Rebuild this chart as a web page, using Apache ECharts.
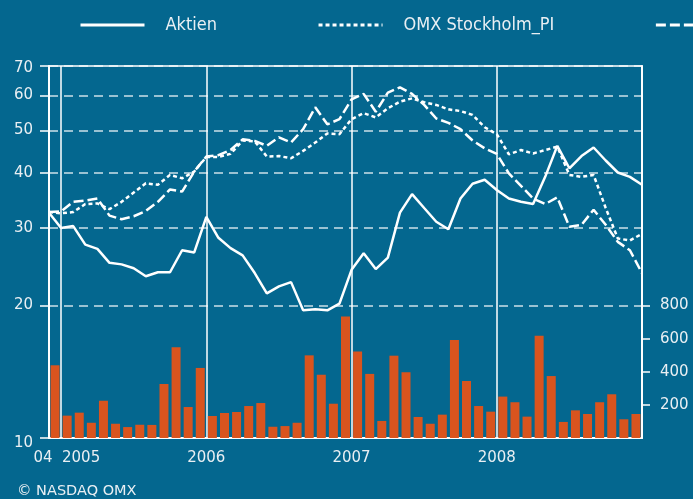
<!DOCTYPE html>
<html>
<head>
<meta charset="utf-8">
<script src="https://cdn.jsdelivr.net/npm/echarts@6/dist/echarts.min.js"></script>
<style>
  html, body { margin: 0; padding: 0; background: #04678f; }
  #chart { width: 693px; height: 499px; }
</style>
</head>
<body>
<div id="chart"></div>
<script>
// month-end points, end Nov 2004 .. end Dec 2008
const aktien = [32.5, 30.0, 30.3, 27.5, 26.9, 25.0, 24.8, 24.3, 23.3, 23.8, 23.8, 26.7, 26.4,
  31.8, 28.5, 27.0, 26.0, 23.7, 21.3, 22.1, 22.6, 19.5, 19.6, 19.5, 20.2,
  24.1, 26.3, 24.2, 25.7, 32.5, 35.8, 33.3, 31.0, 29.8, 35.0, 37.8, 38.6,
  36.6, 35.0, 34.4, 34.0, 39.2, 46.1, 41.0, 43.7, 45.7, 42.7, 40.1, 39.2, 37.6];
const omxPI = [32.6, 32.4, 32.6, 34.0, 34.1, 33.1, 34.4, 36.1, 37.9, 37.6, 39.6, 38.9, 40.3,
  43.5, 43.5, 44.2, 47.4, 47.2, 43.6, 43.7, 43.2, 44.9, 46.9, 49.2, 49.0,
  53.0, 54.7, 53.5, 56.1, 58.1, 59.1, 57.9, 57.1, 55.8, 55.3, 54.2, 50.8,
  49.0, 44.1, 45.1, 44.3, 45.1, 45.9, 39.6, 39.2, 39.6, 33.3, 28.4, 28.1, 29.1];
const sectorPI = [32.6, 32.7, 34.4, 34.6, 35.0, 32.0, 31.4, 31.9, 32.8, 34.4, 36.7, 36.3, 40.3,
  43.6, 43.9, 45.1, 47.7, 47.3, 46.1, 48.2, 46.9, 50.3, 56.4, 51.6, 53.0,
  58.8, 60.5, 55.1, 60.9, 62.6, 60.5, 57.1, 53.2, 52.0, 50.3, 47.4, 45.5,
  44.2, 39.9, 37.4, 35.0, 34.0, 35.2, 30.2, 30.5, 33.0, 30.5, 27.9, 26.7, 23.7];
// monthly turnover, Dec 2004 .. Dec 2008
const volume = [439,
  135, 153, 92, 225, 86, 66, 80, 79, 326, 548, 187, 423,
  133, 151, 157, 193, 211, 68, 72, 92, 499, 382, 207, 733,
  523, 387, 103, 497, 397, 127, 86, 141, 592, 344, 193, 159,
  250, 216, 129, 618, 374, 97, 167, 145, 216, 264, 113, 145];

const seriesNames = ['Aktien', 'OMX Stockholm_PI', 'OMX Stockholm Industrials_PI'];
const leftTicks = [10, 20, 30, 40, 50, 60, 70];
const rightTicks = [200, 400, 600, 800];
const yearLabels = ['04', '2005', '2006', '2007', '2008'];
const yearIndex = [0, 1, 13, 25, 37];
const yearLines = [1, 13, 25, 37];

const pointDates = [];
for (let i = 0; i < aktien.length; i++) {
  const m = 10 + i;
  pointDates.push((2004 + Math.floor(m / 12)) + '-' + (m % 12 + 1));
}
const barMonths = pointDates.slice(1);

const txt = '#e9eff3';
const font = 'DejaVu Sans';

const chart = echarts.init(document.getElementById('chart'));
chart.setOption({
  backgroundColor: '#04678f',
  animation: false,
  title: {
    text: '© NASDAQ OMX',
    left: 17,
    top: 484,
    padding: 0,
    textStyle: { color: txt, fontSize: 14.5, fontWeight: 'normal', fontFamily: font },
  },
  legend: {
    data: seriesNames,
    left: 79,
    top: 16,
    width: 2000,
    padding: 0,
    itemWidth: 64,
    itemHeight: 14,
    itemGap: 100,
    selectedMode: false,
    itemStyle: { color: 'transparent', borderWidth: 0, opacity: 0 },
    lineStyle: { width: 3 },
    textStyle: {
      color: txt,
      fontSize: 18,
      fontFamily: 'DejaVu Sans Condensed',
      padding: [0, 0, 0, 16],
    },
  },
  grid: {
    left: 49,
    right: 51,
    top: 66,
    bottom: 61,
    show: true,
    borderColor: '#fff',
    borderWidth: 1.5,
    backgroundColor: 'transparent',
  },
  xAxis: [
    {
      type: 'category',
      data: barMonths,
      position: 'top',
      boundaryGap: true,
      show: false,
    },
    {
      type: 'category',
      data: pointDates,
      position: 'bottom',
      boundaryGap: false,
      axisLine: { lineStyle: { color: '#fff', width: 2 } },
      axisTick: { show: false },
      axisLabel: {
        interval: 0,
        margin: 13,
        color: txt,
        fontSize: 15,
        fontFamily: font,
        formatter: (v, i) => {
          const k = yearIndex.indexOf(i);
          if (k < 0) return '';
          if (k === 0) return '{a|' + yearLabels[k] + '}';
          if (k === 1) return '{b|' + yearLabels[k] + '}';
          return yearLabels[k];
        },
        rich: {
          a: { color: txt, fontSize: 15, fontFamily: font, padding: [0, 12, 0, 0] },
          b: { color: txt, fontSize: 15, fontFamily: font, padding: [0, 0, 0, 40] },
        },
      },
      splitLine: {
        show: true,
        interval: (i) => yearLines.includes(i),
        lineStyle: { color: '#fff', width: 1.5, type: 'solid' },
      },
    },
  ],
  yAxis: [
    {
      type: 'log',
      logBase: 10,
      min: 10,
      max: 70,
      position: 'left',
      axisLine: { show: true, lineStyle: { color: '#fff', width: 2 } },
      axisTick: {
        show: true,
        length: 9,
        customValues: leftTicks,
        lineStyle: { color: '#fff', width: 1.5 },
      },
      axisLabel: {
        customValues: leftTicks,
        margin: 16,
        color: txt,
        fontSize: 15,
        fontFamily: font,
        formatter: (v) => (v === 10 ? '{d|10}' : v === 70 ? '{t|70}' : String(v)),
        rich: {
          d: { color: txt, fontSize: 15, fontFamily: font, padding: [10, 0, 0, 0] },
          t: { color: txt, fontSize: 15, fontFamily: font, padding: [4, 0, 0, 0] },
        },
      },
      splitLine: {
        show: true,
        lineStyle: { color: 'rgba(255,255,255,0.8)', type: [9, 6], width: 1.5 },
      },
    },
    {
      type: 'value',
      min: 0,
      max: 2246,
      position: 'right',
      axisLine: { show: true, lineStyle: { color: '#fff', width: 2 } },
      axisTick: {
        show: true,
        length: 8,
        customValues: rightTicks,
        lineStyle: { color: '#fff', width: 1.5 },
      },
      axisLabel: {
        customValues: rightTicks,
        margin: 18,
        color: txt,
        fontSize: 15,
        fontFamily: font,
      },
      splitLine: { show: false },
    },
  ],
  series: [
    {
      name: seriesNames[0],
      type: 'line',
      xAxisIndex: 1,
      yAxisIndex: 0,
      data: aktien,
      symbol: 'none',
      itemStyle: { color: '#fff' },
      lineStyle: { color: '#fff', width: 2.5 },
      z: 5,
    },
    {
      name: seriesNames[1],
      type: 'line',
      xAxisIndex: 1,
      yAxisIndex: 0,
      data: omxPI,
      symbol: 'none',
      itemStyle: { color: '#fff' },
      lineStyle: { color: '#fff', width: 2.5, type: [4, 3] },
      z: 5,
    },
    {
      name: seriesNames[2],
      type: 'line',
      xAxisIndex: 1,
      yAxisIndex: 0,
      data: sectorPI,
      symbol: 'none',
      itemStyle: { color: '#fff' },
      lineStyle: { color: '#fff', width: 2.5, type: [10, 4] },
      z: 5,
    },
    {
      name: 'Omsättning',
      type: 'bar',
      xAxisIndex: 0,
      yAxisIndex: 1,
      data: volume,
      barWidth: 9,
      itemStyle: { color: '#d9541e' },
      z: 2,
    },
  ],
});
</script>
</body>
</html>
